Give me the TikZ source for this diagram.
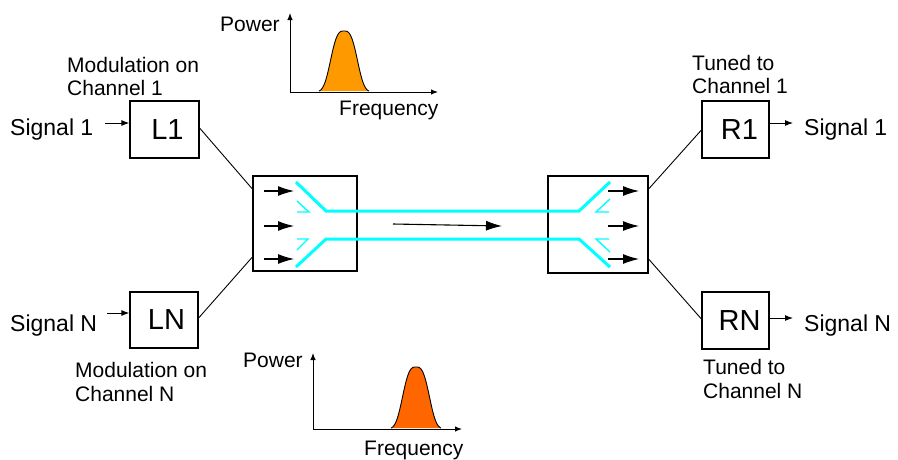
\documentclass[tikz,border=0pt]{standalone}
\usepackage{fontspec}
\setmainfont{Liberation Sans}
\usetikzlibrary{arrows.meta,calc}
\definecolor{fiber}{HTML}{00FFFF}
\definecolor{orangeA}{HTML}{FF9900}
\definecolor{orangeB}{HTML}{FF6600}
\begin{document}
\begin{tikzpicture}[x=1pt,y=-1pt,
  lab/.style={font=\fontsize{21}{23}\selectfont, inner sep=0pt, anchor=base west},
  sig/.style={font=\fontsize{23}{25}\selectfont, inner sep=0pt, anchor=base west},
  box/.style={draw, line width=1.2pt, inner sep=0pt, font=\fontsize{29}{31}\selectfont},
  mux/.style={draw, line width=1.2pt, inner sep=0pt},
  link/.style={line width=0.9pt},
  sigarrow/.style={line width=1pt, -{Latex[length=8pt,width=6pt]}},
  bigarrow/.style={line width=1.1pt, -{Latex[length=16pt,width=10pt]}},
  axis/.style={line width=1pt, -{Latex[length=7pt,width=5.5pt]}},
  fib/.style={fiber, line width=3pt},
  fibs/.style={fiber, line width=1.4pt}
]
\useasboundingbox (0,0) rectangle (898,459);

% boxes
\node[box, minimum width=69pt, minimum height=57pt] (L1) at (164.5,129.5) {\hspace*{6pt}L1};
\node[box, minimum width=68pt, minimum height=56pt] (LN) at (164,320) {\hspace*{5pt}LN};
\node[box, minimum width=67pt, minimum height=57pt] (R1) at (735.5,129.5) {\hspace*{8pt}R1};
\node[box, minimum width=67pt, minimum height=57pt] (RN) at (735.5,320.5) {\hspace*{8pt}RN};
\node[mux, minimum width=104pt, minimum height=95pt] (muxL) at (305,223.5) {};
\node[mux, minimum width=100pt, minimum height=97pt] (muxR) at (598,224.5) {};

% labels
\node[sig] (sigL1) at (10,135) {Signal 1};
\node[sig] (sigLN) at (10,331) {Signal N};
\node[sig] (sigR1) at (804,135) {Signal 1};
\node[sig] (sigRN) at (804,331) {Signal N};
\node[lab] (modL1a) at (67,72) {Modulation on};
\node[lab] (modL1b) at (67,95) {Channel 1};
\node[lab] (modLNa) at (75,377) {Modulation on};
\node[lab] (modLNb) at (75,401) {Channel N};
\node[lab] (tunR1a) at (692,70) {Tuned to};
\node[lab] (tunR1b) at (692,93) {Channel 1};
\node[lab] (tunRNa) at (703,374) {Tuned to};
\node[lab] (tunRNb) at (703,398) {Channel N};

% signal arrows
\coordinate (a1) at (105,123);
\coordinate (aN) at (107,313);
\coordinate (b1) at (793,123);
\coordinate (bN) at (793,318);
\draw[sigarrow] (a1) -- (a1 -| L1.west);
\draw[sigarrow] (aN) -- (aN -| LN.west);
\draw[sigarrow] (b1 -| R1.east) -- (b1);
\draw[sigarrow] (bN -| RN.east) -- (bN);

% links boxes to mux
\draw[link] ($(L1.east)+(0,-1.5)$) -- ($(muxL.west)+(0,-34.5)$);
\draw[link] ($(LN.east)+(0,-2)$) -- ($(muxL.west)+(0,33.5)$);
\draw[link] ($(muxR.east)+(0,-35.5)$) -- ($(R1.west)+(0,0.5)$);
\draw[link] ($(muxR.east)+(0,34.5)$) -- ($(RN.west)+(0,-1.5)$);

% fiber
\draw[fib] (296,182) -- (326,211) -- (579,211) -- (610,182);
\draw[fib] (296,267) -- (326,239) -- (579,239) -- (610,267);
\draw[fibs] (297,201) -- (309,212) -- (297,212);
\draw[fibs] (297,239) -- (308,239) -- (297,250);
\draw[fibs] (610,199) -- (596,212) -- (609,212);
\draw[fibs] (609,239) -- (596,239) -- (610,252);

% arrows in muxes
\foreach \yy in {191,226,259} {
  \draw[bigarrow] (264,\yy) -- (294,\yy);
  \draw[bigarrow] (608,\yy) -- (639,\yy);
}
\draw[bigarrow] (393,224) -- (502,226);

% top spectrum
\fill[orangeA] plot[domain=-25:25, samples=80] ({344+\x},{92-61*exp(-(abs(\x)/15.5)^3)}) -- cycle;
\draw[line width=0.9pt] plot[domain=-25:25, samples=80] ({344+\x},{92-61*exp(-(abs(\x)/15.5)^3)});
\draw[axis] (290,92) -- (290,13);
\draw[axis] (290,92) -- (438,92);
\node[lab] (powA) at (220,31) {Power};
\node[lab] (freqA) at (339,115) {Frequency};

% bottom spectrum
\fill[orangeB] plot[domain=-25:25, samples=80] ({416+\x},{429-62*exp(-(abs(\x)/15.5)^3)}) -- cycle;
\draw[line width=0.9pt] plot[domain=-25:25, samples=80] ({416+\x},{429-62*exp(-(abs(\x)/15.5)^3)});
\draw[axis] (313,429) -- (313,353);
\draw[axis] (313,429) -- (462,429);
\node[lab] (powB) at (243,367) {Power};
\node[lab] (freqB) at (364,455) {Frequency};
\end{tikzpicture}
\end{document}
